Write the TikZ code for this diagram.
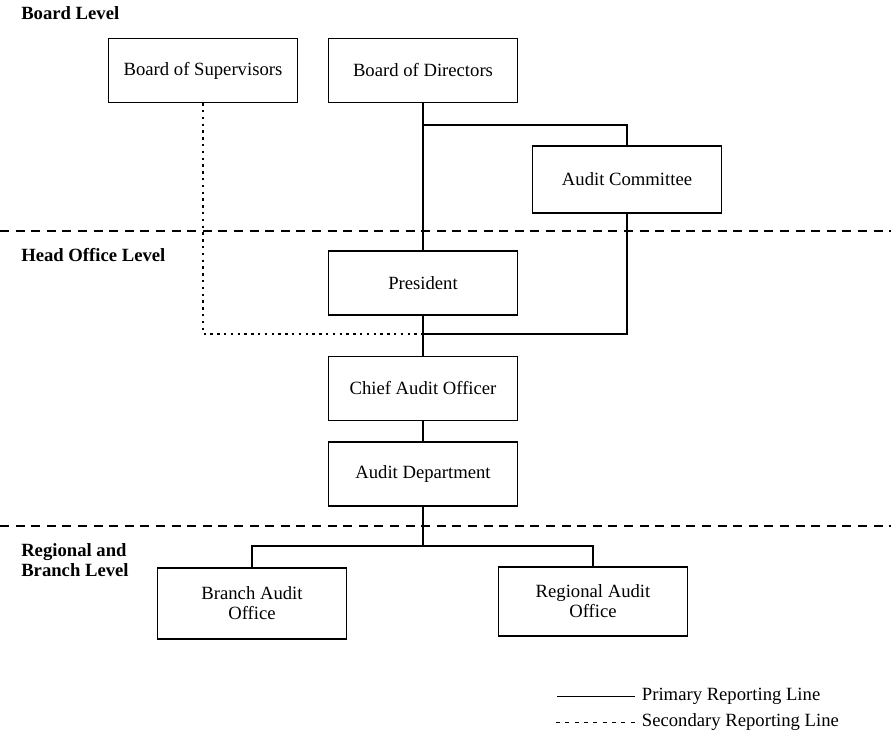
\documentclass[tikz,border=0pt]{standalone}
\usepackage{fontspec}
\setmainfont{Liberation Serif}
\usepackage{tikz}

\begin{document}
\begin{tikzpicture}[x=0.75pt,y=-0.75pt,font=\fontsize{14}{15}\selectfont,
			unit node/.style={draw,rectangle,line width=1.2pt,minimum width=141.75pt,minimum height=48pt,align=center,inner sep=2pt},
			level node/.style={anchor=base west,inner sep=0pt,font=\fontsize{14}{15}\selectfont\bfseries,align=left},
			key node/.style={anchor=west,inner xsep=5pt,inner ysep=0pt},
			primary/.style={line width=1.2pt},
			secondary/.style={line width=1.2pt,dash pattern=on 1.8pt off 3.3pt},
			level line/.style={line width=0.9pt,dash pattern=on 6.8pt off 4.9pt}]
			
			\useasboundingbox (0,0) rectangle (891,737);
			
			\node[level node] (board lvl) at (21,20) {Board Level};
			\node[level node] (head lvl) at (21,262) {Head Office Level};
			\node[level node] (region lvl) at (21,576) {Regional and\\Branch Level};
			
			\node[unit node] (sup) at (203,70.5) {Board of Supervisors};
			\node[unit node] (dir) at (423,70.5) {Board of Directors};
			\node[unit node,minimum height=50pt] (comm) at (627,179.5) {Audit Committee};
			\node[unit node] (pres) at (423,283) {President};
			\node[unit node] (cao) at (423,388.5) {Chief Audit Officer};
			\node[unit node] (dept) at (423,474) {Audit Department};
			\node[unit node,minimum height=53pt] (branch) at (252,603.5) {Branch Audit\\Office};
			\node[unit node,minimum height=52pt] (regional) at (593,601.5) {Regional Audit\\Office};
			
			\coordinate (dir split) at (423,125);
			\coordinate (cao join) at (423,334);
			\coordinate (dept split) at (423,546);
			
			\draw[level line] (0,231) -- (891,231);
			\draw[level line] (0,526) -- (891,526);
			
			\draw[primary] (dir) -- (pres);
			\draw[primary] (dir split) -| (comm);
			\draw[primary] (comm) |- (cao join);
			\draw[secondary] (sup) |- (cao join);
			\draw[primary] (pres) -- (cao);
			\draw[primary] (cao) -- (dept);
			\draw[primary] (dept) -- (dept split);
			\draw[primary] (branch) |- (dept split) -| (regional);
			
			\node[key node] (prim key) at (635,696.5) {Primary Reporting Line};
			\node[key node] (sec key) at (635,722.5) {Secondary Reporting Line};
			\coordinate (prim start) at (557,696.5);
			\coordinate (sec start) at (556,722.5);
			\draw[primary] (prim start) -- (prim key.west);
			\draw[secondary,dash pattern=on 3pt off 4pt] (sec start) -- (sec key.west);
		\end{tikzpicture}
\end{document}
